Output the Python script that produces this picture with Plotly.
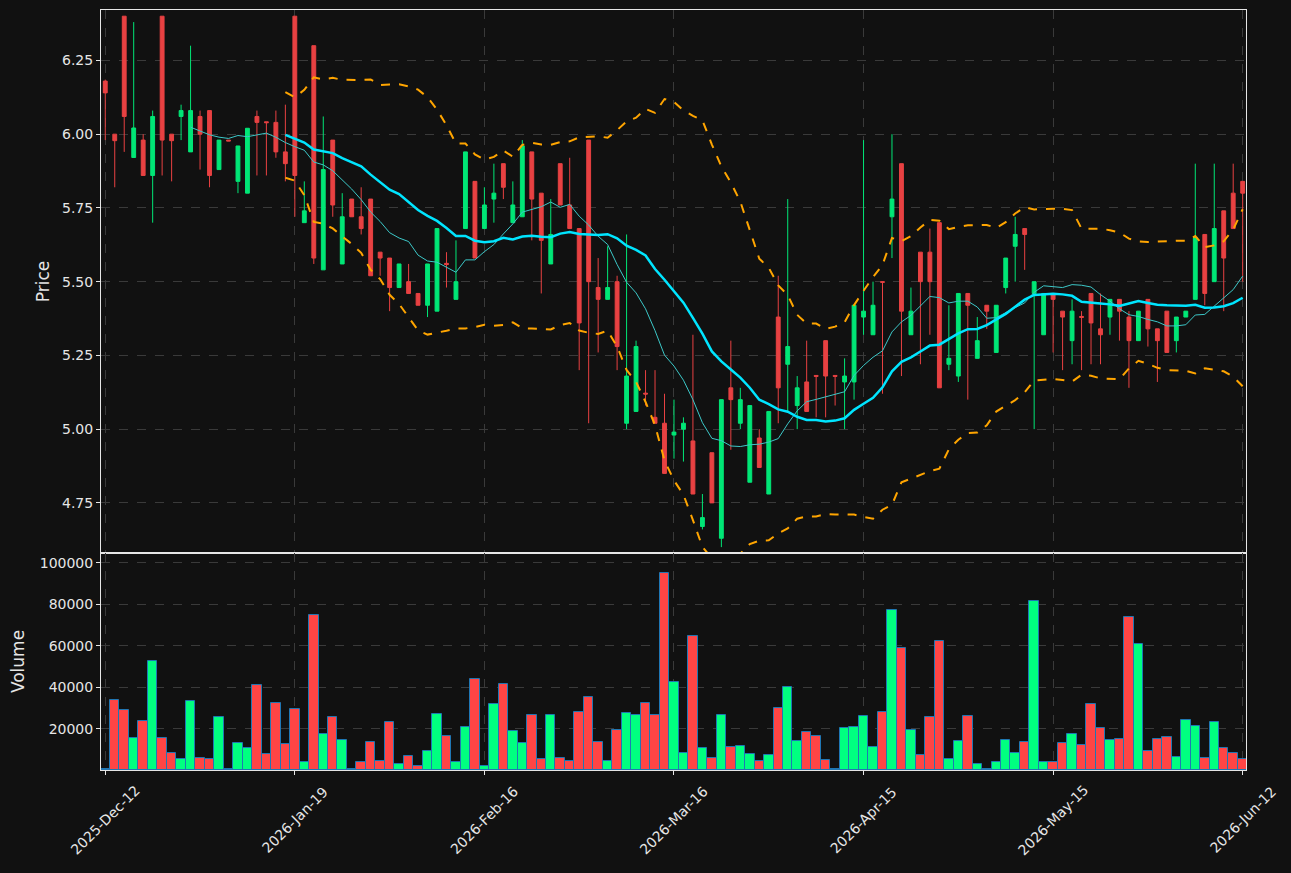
import numpy as np
import pandas as pd
import plotly.graph_objects as go
from plotly.subplots import make_subplots

# ---------------- data ----------------
opens = [6.18, 6.00, 6.40, 5.921, 5.98, 5.86, 6.40, 6.00, 6.06, 5.94,
         6.06, 6.08, 5.88, 5.98, 5.84, 5.80, 6.06, 6.042, 6.04, 5.94,
         6.40, 5.70, 6.30, 5.54, 5.98, 5.56, 5.78, 5.72, 5.78, 5.60,
         5.58, 5.48, 5.50, 5.46, 5.42, 5.40, 5.562, 5.44, 5.68, 5.84,
         5.68, 5.78, 5.90, 5.70, 5.72, 5.94, 5.80, 5.56, 5.90, 5.76,
         5.68, 5.98, 5.48, 5.44, 5.50, 5.02, 5.06, 5.122, 5.04, 5.02,
         4.98, 5.00, 4.96, 4.67, 4.92, 4.63, 5.14, 5.02, 4.82, 4.97,
         4.78, 5.38, 5.22, 5.08, 5.16, 5.182, 5.30, 5.182, 5.16, 5.16,
         5.38, 5.32, 5.50, 5.72, 5.90, 5.32, 5.60, 5.60, 5.70, 5.22,
         5.18, 5.46, 5.24, 5.42, 5.26, 5.48, 5.62, 5.68, 5.46, 5.32,
         5.46, 5.40, 5.30, 5.382, 5.46, 5.34, 5.38, 5.44, 5.38, 5.30,
         5.44, 5.34, 5.40, 5.30, 5.38, 5.44, 5.66, 5.50, 5.74, 5.80,
         5.84]
highs = [6.185, 6.00, 6.40, 6.38, 6.00, 6.08, 6.40, 6.00, 6.10, 6.30,
         6.08, 6.08, 5.98, 5.98, 5.96, 6.02, 6.08, 6.042, 6.08, 6.10,
         6.40, 5.84, 6.30, 6.06, 5.98, 5.80, 5.78, 5.82, 5.78, 5.60,
         5.58, 5.56, 5.56, 5.46, 5.56, 5.68, 5.60, 5.64, 5.94, 5.84,
         5.82, 5.90, 5.90, 5.84, 5.98, 5.94, 5.80, 5.78, 5.90, 5.92,
         5.68, 5.98, 5.58, 5.62, 5.52, 5.66, 5.30, 5.20, 5.20, 5.12,
         5.10, 5.04, 5.32, 4.78, 4.92, 5.10, 5.30, 5.14, 5.08, 5.00,
         5.06, 5.52, 5.78, 5.18, 5.30, 5.182, 5.30, 5.182, 5.24, 5.42,
         5.98, 5.50, 5.50, 6.00, 5.90, 5.48, 5.60, 5.68, 5.70, 5.42,
         5.46, 5.46, 5.38, 5.42, 5.42, 5.58, 5.72, 5.68, 5.50, 5.46,
         5.46, 5.40, 5.44, 5.40, 5.46, 5.46, 5.44, 5.44, 5.40, 5.40,
         5.44, 5.34, 5.40, 5.38, 5.40, 5.90, 5.66, 5.90, 5.74, 5.90,
         5.84]
lows = [5.98, 5.82, 5.94, 5.92, 5.86, 5.70, 5.86, 5.84, 5.98, 5.94,
        5.88, 5.82, 5.88, 5.977, 5.80, 5.80, 5.86, 5.86, 5.92, 5.84,
        5.72, 5.70, 5.56, 5.54, 5.72, 5.56, 5.72, 5.66, 5.52, 5.52,
        5.40, 5.48, 5.46, 5.42, 5.38, 5.40, 5.48, 5.44, 5.68, 5.58,
        5.68, 5.70, 5.78, 5.70, 5.72, 5.64, 5.46, 5.56, 5.76, 5.68,
        5.20, 5.02, 5.26, 5.44, 5.20, 5.00, 5.06, 5.08, 5.02, 4.85,
        4.90, 4.89, 4.78, 4.66, 4.75, 4.60, 4.93, 5.00, 4.82, 4.87,
        4.78, 5.02, 5.06, 5.00, 5.06, 5.04, 5.04, 5.08, 5.00, 5.10,
        5.32, 5.32, 5.12, 5.58, 5.18, 5.32, 5.22, 5.32, 5.14, 5.20,
        5.16, 5.10, 5.24, 5.34, 5.26, 5.46, 5.50, 5.54, 5.00, 5.32,
        5.26, 5.20, 5.22, 5.20, 5.22, 5.22, 5.32, 5.30, 5.14, 5.30,
        5.28, 5.16, 5.26, 5.26, 5.38, 5.44, 5.42, 5.50, 5.40, 5.68,
        5.50]
closes = [6.14, 5.978, 6.06, 6.021, 5.86, 6.06, 5.98, 5.978, 6.08, 6.08,
          6.00, 5.86, 5.98, 5.977, 5.96, 6.02, 6.04, 6.039, 5.94, 5.90,
          5.86, 5.74, 5.58, 5.88, 5.76, 5.72, 5.72, 5.68, 5.52, 5.58,
          5.48, 5.56, 5.46, 5.42, 5.56, 5.68, 5.558, 5.50, 5.94, 5.58,
          5.76, 5.80, 5.82, 5.76, 5.96, 5.78, 5.64, 5.66, 5.76, 5.68,
          5.36, 5.50, 5.44, 5.48, 5.28, 5.18, 5.28, 5.119, 5.02, 4.85,
          4.99, 5.02, 4.78, 4.70, 4.75, 5.10, 5.10, 5.10, 5.08, 4.87,
          5.06, 5.14, 5.28, 5.14, 5.06, 5.179, 5.18, 5.179, 5.18, 5.42,
          5.40, 5.42, 5.498, 5.78, 5.40, 5.40, 5.50, 5.50, 5.14, 5.24,
          5.46, 5.42, 5.30, 5.40, 5.42, 5.58, 5.66, 5.66, 5.50, 5.46,
          5.44, 5.38, 5.40, 5.379, 5.36, 5.32, 5.44, 5.40, 5.30, 5.40,
          5.34, 5.30, 5.26, 5.38, 5.40, 5.65, 5.46, 5.68, 5.58, 5.68,
          5.80]
volumes = [800, 34000, 29200, 15700, 23900, 52800, 15700, 8400, 5500, 33500,
           6000, 5500, 25800, 800, 13250, 10800, 41200, 8000, 32500, 12800,
           29600, 4100, 74900, 17600, 25800, 14700, 700, 4100, 13700, 4600,
           23400, 3100, 7000, 2000, 9400, 27200, 16600, 4100, 21000, 44100,
           2200, 32000, 41700, 19000, 13250, 26700, 5500, 26700, 6000, 4600,
           28200, 35400, 13700, 4600, 19500, 27700, 26700, 32500, 26700, 95200,
           42700, 8400, 64800, 10800, 6000, 26700, 11300, 11800, 8000, 4600,
           7500, 30100, 40000, 14200, 18550, 16600, 5000, 900, 20500, 21000,
           26300, 11300, 28200, 77300, 59000, 19500, 7500, 25800, 62400, 5500,
           14200, 26300, 3100, 900, 4100, 14700, 8400, 13700, 81700, 4100,
           4100, 13250, 17600, 12300, 32000, 20500, 14700, 15200, 74000, 61000,
           9400, 15200, 16100, 6500, 24300, 21400, 6000, 23400, 10800, 8400,
           5500]
tick_labels = ["2025-Dec-12", "2026-Jan-19", "2026-Feb-16", "2026-Mar-16",
               "2026-Apr-15", "2026-May-15", "2026-Jun-12"]
tick_index = [0, 20, 40, 60, 80, 100, 120]

# ---------------- derived indicators ----------------
idx = list(range(len(closes)))
cs = pd.Series(closes)
ma10 = cs.rolling(10).mean()
ma20 = cs.rolling(20).mean()
sd20 = cs.rolling(20).std()
bb_up = ma20 + 2 * sd20
bb_lo = ma20 - 2 * sd20

UP_C = "#00e676"
DN_C = "#e84142"
VUP_C = "#00ff80"
VDN_C = "#ff4545"
vol_colors = [VUP_C if c >= o else VDN_C for o, c in zip(opens, closes)]

fig = make_subplots(rows=2, cols=1, shared_xaxes=True, vertical_spacing=0,
                    row_heights=[0.7145, 0.2855])

fig.add_trace(go.Candlestick(
    x=idx, open=opens, high=highs, low=lows, close=closes,
    increasing=dict(line=dict(color=UP_C, width=1), fillcolor=UP_C),
    decreasing=dict(line=dict(color=DN_C, width=1), fillcolor=DN_C),
    whiskerwidth=0, showlegend=False), row=1, col=1)

fig.add_trace(go.Scatter(x=idx, y=ma10, mode="lines",
                         line=dict(color="#3cc8c8", width=1), showlegend=False), row=1, col=1)
fig.add_trace(go.Scatter(x=idx, y=ma20, mode="lines",
                         line=dict(color="#00e5ff", width=2.5), showlegend=False), row=1, col=1)
fig.add_trace(go.Scatter(x=idx, y=bb_up, mode="lines",
                         line=dict(color="#ffa500", width=2, dash="dash"), showlegend=False), row=1, col=1)
fig.add_trace(go.Scatter(x=idx, y=bb_lo, mode="lines",
                         line=dict(color="#ffa500", width=2, dash="dash"), showlegend=False), row=1, col=1)

fig.add_trace(go.Bar(x=idx, y=volumes, marker=dict(color=vol_colors,
                     line=dict(color="#1f77b4", width=1)), width=1.0,
                     showlegend=False), row=2, col=1)

BG = "#111111"
GRID = "#3a3a3a"
TXT = "#e6e6e6"
axis_common = dict(showline=True, linecolor="#e6e6e6", linewidth=1, mirror=True,
                   showgrid=True, gridcolor=GRID, griddash="dash", gridwidth=1,
                   zeroline=False, ticks="outside", ticklen=4, tickcolor="#e6e6e6",
                   tickfont=dict(size=14, color=TXT))

fig.update_layout(
    width=1291, height=873,
    paper_bgcolor=BG, plot_bgcolor=BG,
    margin=dict(l=101, r=45, t=10, b=103),
    font=dict(family="DejaVu Sans", size=14, color=TXT),
    boxgap=0.42, bargap=0,
    showlegend=False,
)
fig.update_xaxes(**axis_common, range=[-0.45, 120.35], tickvals=tick_index,
                 ticktext=tick_labels, rangeslider=dict(visible=False),
                 showticklabels=False)
fig.update_yaxes(**axis_common)
fig.update_yaxes(range=[4.580, 6.421], tickvals=[4.75, 5.0, 5.25, 5.5, 5.75, 6.0, 6.25],
                 tickformat=".2f", title=dict(text="Price", standoff=8), row=1, col=1)
fig.update_yaxes(range=[240, 104800], tickvals=[20000, 40000, 60000, 80000, 100000],
                 tickformat="d", title=dict(text="Volume", standoff=10), row=2, col=1)

# rotated date labels, centred under their ticks (as in the reference)
for ti, lab in zip(tick_index, tick_labels):
    fig.add_annotation(x=ti, xref="x2", y=0, yref="paper", yshift=-50,
                       text=lab, textangle=-45, showarrow=False,
                       xanchor="center", yanchor="middle",
                       font=dict(size=14, color=TXT, family="DejaVu Sans"))

fig.write_html("out.html")
